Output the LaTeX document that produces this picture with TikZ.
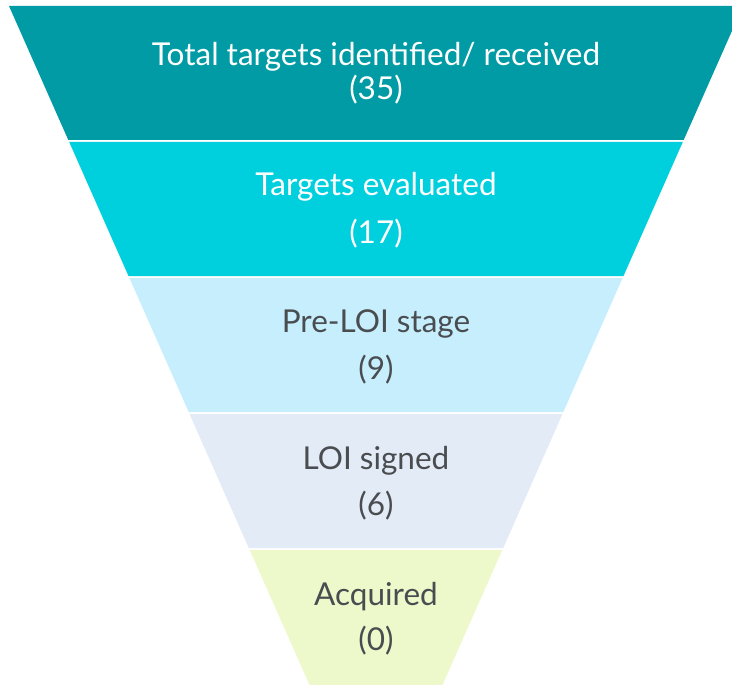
\documentclass[tikz,border=0pt]{standalone}
\usepackage{fontspec}
\setmainfont{Lato}
\definecolor{c1}{HTML}{009BA4}
\definecolor{c2}{HTML}{00CFDE}
\definecolor{c3}{HTML}{C7EEFD}
\definecolor{c4}{HTML}{E3EBF7}
\definecolor{c5}{HTML}{EDF9CB}
\definecolor{tdark}{HTML}{4A4D50}
\begin{document}
\begin{tikzpicture}[x=1pt,y=-1pt,
  lbl/.style={font=\fontsize{31.5}{36}\selectfont, inner sep=0pt, anchor=base},
  light/.style={lbl, text=white},
  dark/.style={lbl, text=tdark}]
\useasboundingbox (0,0) rectangle (732,685);
\clip (0,0) rectangle (732,685);
\fill[c1] (9,6) -- (743,6) -- (683.7,140) -- (68.3,140) -- cycle;
\fill[c2] (69.2,142) -- (682.8,142) -- (623.5,276) -- (128.5,276) -- cycle;
\fill[c3] (129.4,278) -- (622.6,278) -- (563.3,412) -- (188.7,412) -- cycle;
\fill[c4] (189.5,414) -- (562.5,414) -- (503.2,548) -- (248.8,548) -- cycle;
\fill[c5] (249.7,550) -- (502.3,550) -- (442.5,685) -- (309.5,685) -- cycle;
\node[light] (t1a) at (376,66) {Total targets identified/ received};
\node[light] (t1b) at (376,100) {(35)};
\node[light] (t2a) at (376,196) {Targets evaluated};
\node[light] (t2b) at (376,243) {(17)};
\node[dark] (t3a) at (376,332) {Pre-LOI stage};
\node[dark] (t3b) at (376,379) {(9)};
\node[dark] (t4a) at (376,469) {LOI signed};
\node[dark] (t4b) at (376,515) {(6)};
\node[dark] (t5a) at (376,605) {Acquired};
\node[dark] (t5b) at (376,650) {(0)};
\end{tikzpicture}
\end{document}
